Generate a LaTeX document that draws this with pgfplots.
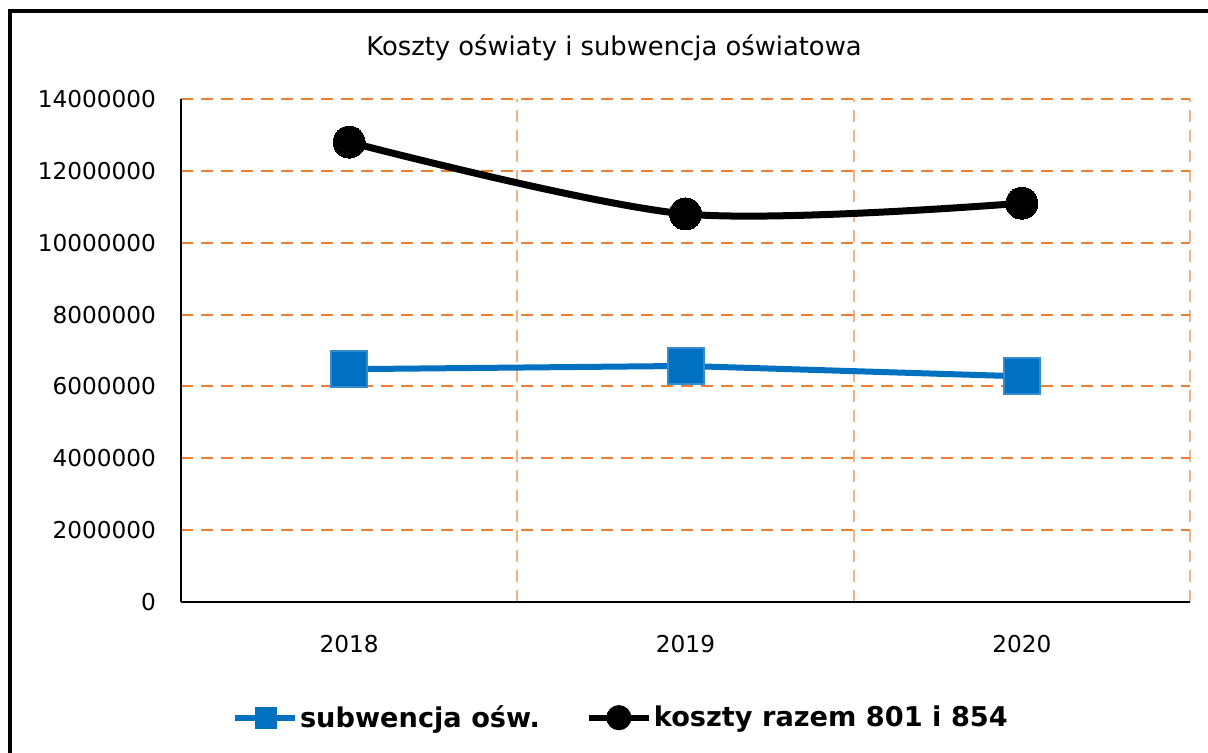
\documentclass[border=0pt]{standalone}
\usepackage{pgfplots}
\pgfplotsset{compat=1.18}
\usepackage{fontspec}
\setmainfont{DejaVu Sans}
\definecolor{sblue}{RGB}{0,112,192}
\definecolor{gridh}{RGB}{237,125,49}
\definecolor{gridv}{RGB}{244,177,131}
\begin{document}
\begin{tikzpicture}
\path[use as bounding box] (0pt,0pt) rectangle (604pt,376.5pt);
\draw[line width=2pt] (5pt,-5pt) -- (5pt,371pt) -- (610pt,371pt);
\node[font=\fontsize{12.9}{15}\selectfont] at (307pt,352.5pt) {Koszty oświaty i subwencja oświatowa};
\begin{axis}[
  at={(90.5pt,75.5pt)}, anchor=south west,
  scale only axis, width=504.5pt, height=251.5pt,
  xmin=-0.5, xmax=2.5, ymin=0, ymax=14000000,
  axis x line=bottom, axis y line=left,
  axis line style={line width=1pt, -},
  xtick={0,1,2}, xticklabels={2018,2019,2020},
  minor xtick={0.5,1.5,2.5},
  ytick={0,2000000,4000000,6000000,8000000,10000000,12000000,14000000},
  scaled y ticks=false,
  yticklabel style={/pgf/number format/fixed,/pgf/number format/1000 sep={}, xshift=-9pt},
  xticklabel style={yshift=-13pt},
  tick label style={font=\fontsize{11.6}{13}\selectfont},
  /pgf/number format/assume math mode=true,
  major tick length=0pt, minor tick length=0pt,
  ymajorgrids, xminorgrids,
  major grid style={gridh, line width=1pt, dash pattern=on 6pt off 4pt},
  minor grid style={gridv, line width=1pt, dash pattern=on 6pt off 4pt},
  legend columns=2,
  legend style={at={(0.436,-0.23)}, anchor=center, draw=none,
    font=\bfseries\fontsize{13.6}{16}\selectfont,
    /tikz/every even column/.append style={column sep=22pt},
    nodes={inner sep=1pt}},
  clip=false,
]
\addplot[sblue, line width=3pt, mark=square*, mark size=9pt,
  mark options={fill=sblue, draw=sblue!80!white, line width=1pt},
  legend image code/.code={
    \draw[sblue, line width=3pt] (0pt,0pt) -- (30pt,0pt);
    \fill[sblue] (11.5pt,-4pt) rectangle (19.5pt,4pt);}]
  coordinates {(0,6480000) (1,6570000) (2,6280000)};
\addlegendentry{subwencja ośw.}
\addplot[black, line width=3.5pt, smooth, tension=0.5, mark=*, mark size=8pt,
  mark options={fill=black, line width=0pt},
  legend image code/.code={
    \draw[black, line width=3pt] (0pt,0pt) -- (30pt,0pt);
    \fill[black] (15pt,0pt) circle (4.5pt);}]
  coordinates {(0,12800000) (1,10800000) (2,11100000)};
\addlegendentry{koszty razem 801 i 854}
\end{axis}
\end{tikzpicture}
\end{document}
